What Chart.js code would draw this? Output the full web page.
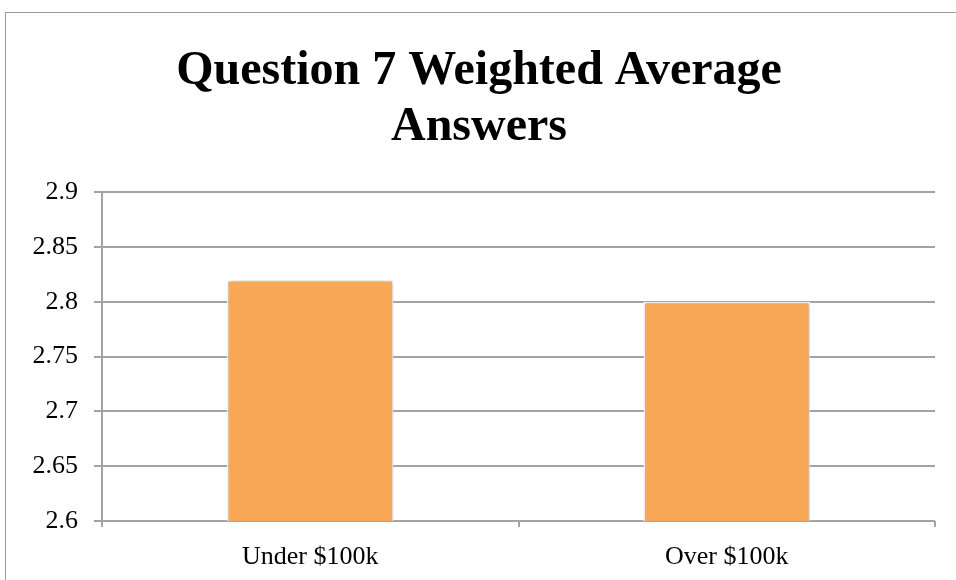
<!DOCTYPE html>
<html>
<head>
<meta charset="utf-8">
<script src="https://cdn.jsdelivr.net/npm/chart.js@4.4.1/dist/chart.umd.min.js"></script>
<style>
  html, body { margin: 0; padding: 0; background: #fff; overflow: hidden; }
  #wrap { position: relative; width: 956px; height: 580px; }
  #frame {
    position: absolute; left: 5px; top: 12px; width: 1000px; height: 1000px;
    border: 1.5px solid #9a9a9a; pointer-events: none;
  }
</style>
</head>
<body>
<div id="wrap">
  <canvas id="chart" width="956" height="580"></canvas>
  <div id="frame"></div>
</div>
<script>
// chart data
const categories = ['Under $100k', 'Over $100k'];
const averages = [2.82, 2.8];
const yMin = 2.6;
const yMax = 2.9;
const yStep = 0.05;

const gridGray = '#a3a3a3';
const serif = "'Liberation Serif', 'Times New Roman', serif";

// soft drop shadow round the bars
const barShadow = {
    id: 'barShadow',
    beforeDatasetDraw(chart) {
        const c = chart.ctx;
        c.save();
        c.shadowColor = 'rgba(0,0,0,0.28)';
        c.shadowBlur = 5;
        c.shadowOffsetX = 1;
        c.shadowOffsetY = 1;
    },
    afterDatasetDraw(chart) {
        chart.ctx.restore();
    }
};

const ctx = document.getElementById('chart').getContext('2d');
const chart = new Chart(ctx, {
    type: 'bar',
    data: {
        labels: categories,
        datasets: [{
            data: averages,
            backgroundColor: '#f9a857',
            borderColor: '#ffffff',
            borderWidth: 1.5,
            barPercentage: 0.4,
            categoryPercentage: 1.0
        }]
    },
    options: {
        responsive: false,
        animation: false,
        layout: { padding: { left: 23, right: 21, top: 0, bottom: 0 } },
        plugins: {
            legend: { display: false },
            tooltip: { enabled: false },
            title: {
                display: true,
                text: ['Question 7 Weighted Average', 'Answers'],
                color: '#000',
                font: { family: serif, size: 48, weight: 'bold', lineHeight: 1.18 },
                padding: { top: 43, bottom: 36 }
            }
        },
        scales: {
            x: {
                offset: true,
                grid: {
                    offset: true,
                    drawOnChartArea: false,
                    drawTicks: true,
                    tickLength: 6,
                    color: gridGray,
                    lineWidth: 2
                },
                border: { display: false },
                ticks: {
                    color: '#000',
                    font: { family: serif, size: 26 },
                    padding: 15
                },
                afterFit(scale) { scale.height = 59; }
            },
            y: {
                min: yMin,
                max: yMax,
                grid: {
                    color: gridGray,
                    lineWidth: 2,
                    tickLength: 8
                },
                border: { display: true, color: gridGray, width: 2 },
                ticks: {
                    stepSize: yStep,
                    color: '#000',
                    font: { family: serif, size: 26 },
                    padding: 16,
                    callback: v => +v.toFixed(2)
                },
                afterFit(scale) { scale.width = 79; }
            }
        }
    },
    plugins: [barShadow]
});
</script>
</body>
</html>
